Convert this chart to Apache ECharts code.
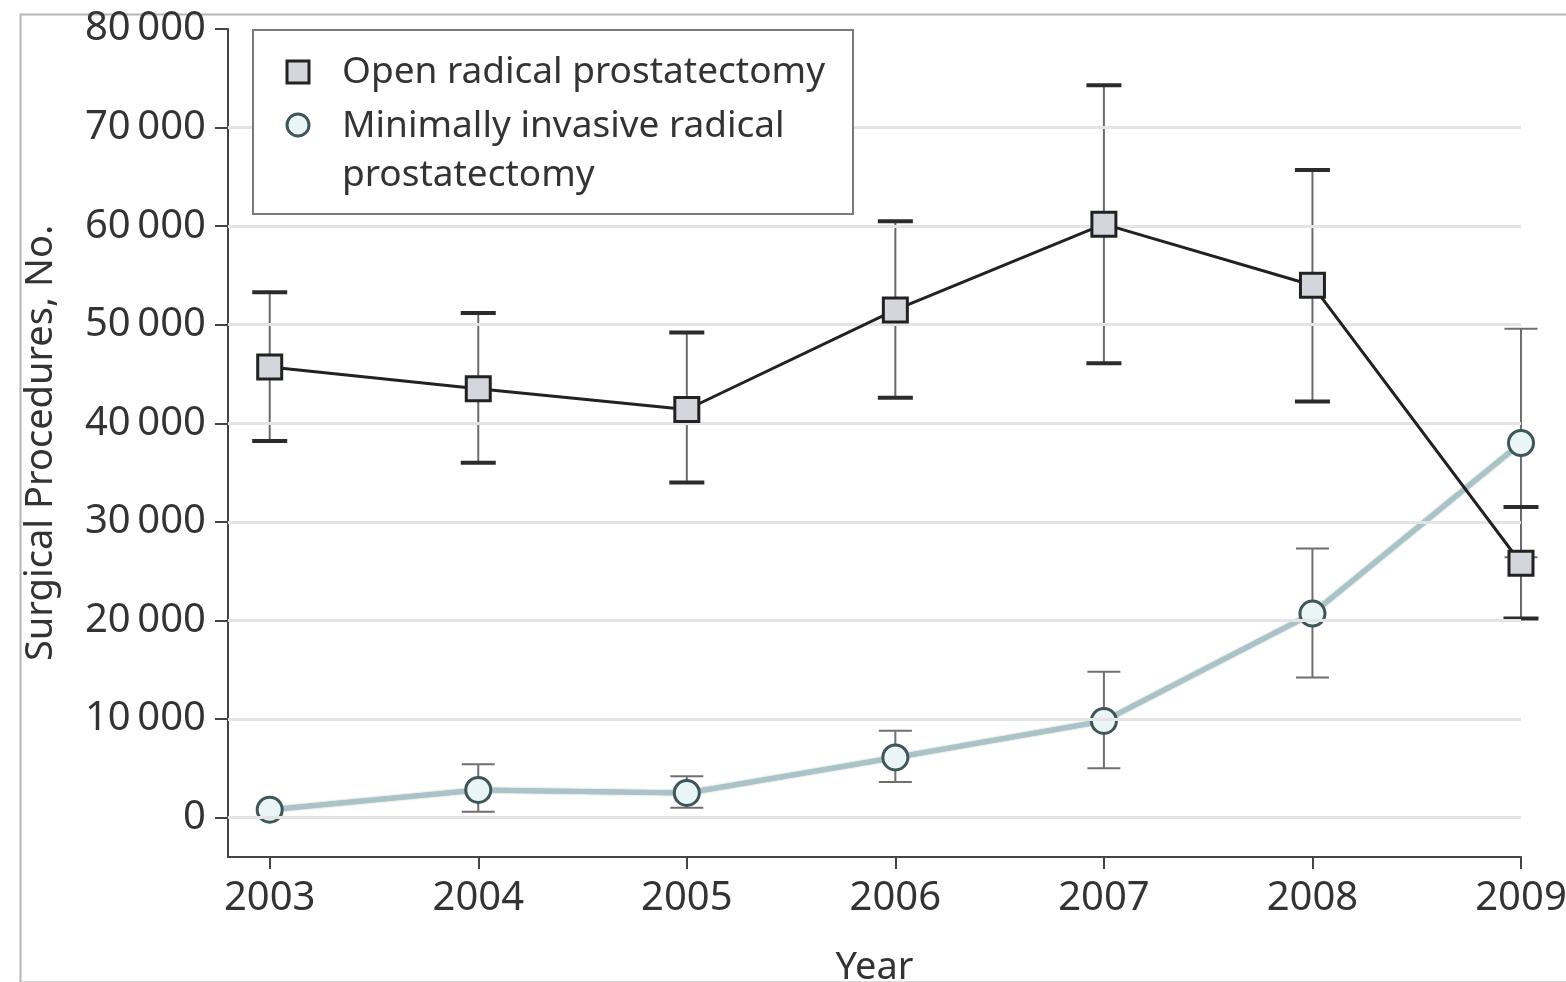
<!DOCTYPE html>
<html>
<head>
<meta charset="utf-8">
<script src="https://cdn.jsdelivr.net/npm/echarts@6/dist/echarts.min.js"></script>
<style>
  html, body { margin: 0; padding: 0; background: #fff; }
  #chart { width: 1566px; height: 982px; }
</style>
</head>
<body>
<div id="chart"></div>
<script>
// Surgical procedures per year, with 95% CI error bars
const years = [2003, 2004, 2005, 2006, 2007, 2008, 2009];

const openValues = [45700, 43500, 41400, 51500, 60200, 54000, 25800];
const openLower  = [38200, 36000, 34000, 42600, 46100, 42200, 20200];
const openUpper  = [53300, 51200, 49200, 60500, 74300, 65700, 31500];

const mipValues = [800, 2800, 2500, 6100, 9800, 20700, 38000];
const mipLower  = [null,  600, 1000, 3600, 5000, 14200, 26400];
const mipUpper  = [null, 5400, 4200, 8800, 14800, 27300, 49600];

const yTicks = [0, 10000, 20000, 30000, 40000, 50000, 60000, 70000, 80000];
const gridValues = [0, 10000, 20000, 30000, 40000, 50000, 60000, 70000];

const openName = 'Open radical prostatectomy';
const mipName = 'Minimally invasive radical prostatectomy';
const mipLegendLines = ['Minimally invasive radical', 'prostatectomy'];

const FONT = '"Noto Sans", "Open Sans", sans-serif';

function pairs(xs, ys) { return xs.map((x, i) => [x, ys[i]]); }
function ranges(xs, lo, hi) { return xs.map((x, i) => [x, lo[i], hi[i]]); }

function errorBars(capWidth, capColor, capLineWidth, stemColor) {
  return function (params, api) {
    const x = api.value(0);
    const lo = api.value(1), hi = api.value(2);
    if (isNaN(lo) || isNaN(hi)) return null;
    const pLo = api.coord([x, lo]);
    const pHi = api.coord([x, hi]);
    const h = capWidth / 2;
    return {
      type: 'group',
      children: [
        { type: 'line', shape: { x1: pHi[0], y1: pHi[1], x2: pLo[0], y2: pLo[1] },
          style: { stroke: stemColor, lineWidth: 2 } },
        { type: 'line', shape: { x1: pHi[0] - h, y1: pHi[1], x2: pHi[0] + h, y2: pHi[1] },
          style: { stroke: capColor, lineWidth: capLineWidth } },
        { type: 'line', shape: { x1: pLo[0] - h, y1: pLo[1], x2: pLo[0] + h, y2: pLo[1] },
          style: { stroke: capColor, lineWidth: capLineWidth } }
      ]
    };
  };
}

const chart = echarts.init(document.getElementById('chart'), null, { renderer: 'canvas' });

const groupedNumber = v => {
  const s = String(v);
  return s.length > 3 ? s.slice(0, -3) + '\u2009' + s.slice(-3) : s;
};

chart.setOption({
  animation: false,
  backgroundColor: '#fff',
  grid: {
    left: 228, right: 45, top: 29, bottom: 125,
    containLabel: false, outerBoundsMode: 'none'
  },
  xAxis: {
    type: 'value',
    min: 2002.8,
    max: 2009,
    name: 'Year',
    nameLocation: 'middle',
    nameGap: 92,
    nameTextStyle: { fontFamily: FONT, fontSize: 38, color: '#333' },
    axisLine: { show: true, onZero: false, lineStyle: { color: '#444', width: 2 } },
    axisTick: { show: true, length: 12, lineStyle: { color: '#444', width: 2 }, customValues: years },
    axisLabel: {
      show: true, margin: 22, fontFamily: FONT, fontSize: 40, color: '#333',
      customValues: years, formatter: v => String(v)
    },
    splitLine: { show: false }
  },
  yAxis: {
    type: 'value',
    min: -4000,
    max: 80000,
    name: 'Surgical Procedures, No.',
    nameLocation: 'middle',
    nameGap: 168,
    nameTextStyle: { fontFamily: FONT, fontSize: 38, color: '#333' },
    axisLine: { show: true, onZero: false, lineStyle: { color: '#444', width: 2 } },
    axisTick: { show: true, length: 13, lineStyle: { color: '#444', width: 2 }, customValues: yTicks },
    axisLabel: {
      show: true, margin: 22, fontFamily: FONT, fontSize: 40, color: '#333',
      customValues: yTicks, formatter: groupedNumber
    },
    splitLine: { show: false }
  },
  graphic: [
    // outer frame
    { type: 'rect', left: 18, top: 12, z: 0,
      shape: { x: 0, y: 0, width: 1547, height: 968 },
      style: { fill: 'none', stroke: '#b5b5b5', lineWidth: 2 } },
    // legend box
    { type: 'rect', left: 252, top: 29, z: 50,
      shape: { x: 0, y: 0, width: 600, height: 184 },
      style: { fill: '#fff', stroke: '#7a7a7a', lineWidth: 2 } },
    { type: 'rect', x: 287, y: 61, z: 51,
      shape: { x: 0, y: 0, width: 22, height: 22 },
      style: { fill: '#d3d6dc', stroke: '#222', lineWidth: 3 } },
    { type: 'circle', x: 298, y: 125, z: 51,
      shape: { cx: 0, cy: 0, r: 11 },
      style: { fill: '#eaf5f7', stroke: '#3e5559', lineWidth: 3 } },
    { type: 'text', x: 342, y: 72, z: 51,
      style: { text: openName, fontFamily: FONT, fontSize: 37, fill: '#333', verticalAlign: 'middle' } },
    { type: 'text', x: 342, y: 126, z: 51,
      style: { text: mipLegendLines[0], fontFamily: FONT, fontSize: 37, fill: '#333', verticalAlign: 'middle' } },
    { type: 'text', x: 342, y: 175, z: 51,
      style: { text: mipLegendLines[1], fontFamily: FONT, fontSize: 37, fill: '#333', verticalAlign: 'middle' } }
  ],
  series: [
    {
      // horizontal reference grid lines
      name: 'grid',
      type: 'line',
      data: [],
      silent: true,
      z: 0,
      markLine: {
        silent: true,
        symbol: ['none', 'none'],
        label: { show: false },
        lineStyle: { color: '#e4e4e4', width: 3, type: 'solid' },
        data: gridValues.map(v => ({ yAxis: v }))
      }
    },
    {
      name: mipName + ' CI',
      type: 'custom',
      z: 2,
      renderItem: errorBars(33, '#6f6f6f', 2, '#6f6f6f'),
      encode: { x: 0, y: [1, 2] },
      data: ranges(years, mipLower, mipUpper)
    },
    {
      name: mipName,
      type: 'line',
      z: 3,
      data: pairs(years, mipValues),
      symbol: 'circle',
      symbolSize: 25,
      showAllSymbol: true,
      lineStyle: {
        color: '#a9c3c8', width: 5,
        shadowColor: 'rgba(70, 100, 105, 0.55)', shadowBlur: 2
      },
      itemStyle: { color: '#eaf5f7', borderColor: '#3e5559', borderWidth: 3 }
    },
    {
      name: openName + ' CI',
      type: 'custom',
      z: 4,
      renderItem: errorBars(35, '#2b2b2b', 4, '#6a6a6a'),
      encode: { x: 0, y: [1, 2] },
      data: ranges(years, openLower, openUpper)
    },
    {
      name: openName,
      type: 'line',
      z: 5,
      data: pairs(years, openValues),
      symbol: 'rect',
      symbolSize: 24,
      showAllSymbol: true,
      lineStyle: { color: '#222', width: 3 },
      itemStyle: { color: '#d3d6dc', borderColor: '#222', borderWidth: 3 }
    }
  ]
});
</script>
</body>
</html>
